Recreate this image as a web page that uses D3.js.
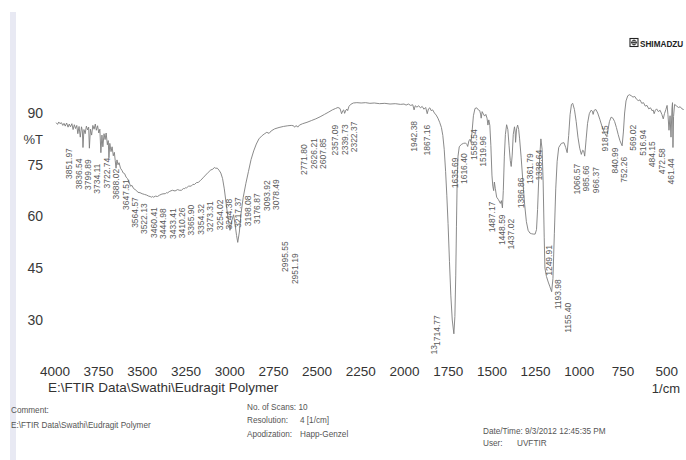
<!DOCTYPE html>
<html>
<head>
<meta charset="utf-8">
<script src="https://cdn.jsdelivr.net/npm/d3@7"></script>
<style>
  html, body { margin: 0; padding: 0; background: #fff; }
  svg { display: block; font-family: "Liberation Sans", Arial, sans-serif; }
</style>
</head>
<body>
<svg id="chart" width="686" height="460"></svg>
<script>
// FTIR spectrum of Eudragit polymer: wavenumber (1/cm) vs transmittance (%T)
const wavenumbers = [
  3990,3982,3975,3968,3960,3952,3945,3938,3930,3922,3915,3908,3900,3893,3886,3879,3872,3866,3859,3851.97,
  3845,3840,3836.54,3831,3824,3817,3810,3804,3799.89,3794,3787,3780,3773,3766,3760,3753,3746,3740,3734.11,3728,
  3722.74,3716,3710,3704,3697,3692,3688.02,3683,3676,3670,3663,3657,3652,3647.51,3642,3636,3630,3622,3614,3606,
  3598,3590,3582,3573,3564.57,3556,3547,3538,3530,3522.13,3510,3498,3485,3472,3460.41,3452,3444.98,3438,3433.41,3422,
  3410.26,3398,3385,3373,3365.90,3360,3354.32,3340,3325,3310,3295,3285,3273.31,3262,3254.02,3248,3244.38,3232,3224,3217.37,
  3208,3198.08,3188,3176.87,3165,3150,3135,3120,3105,3093.92,3085,3078.49,3068,3058,3048,3038,3028,3018,3008,2995.55,
  2985,2975,2966,2958,2951.19,2942,2932,2920,2905,2890,2875,2860,2845,2830,2815,2800,2785,2771.80,2760,2740,
  2715,2690,2665,2645,2632,2626.21,2618,2612,2607.85,2598,2580,2555,2530,2505,2480,2455,2430,2410,2392,2378,
  2366,2357.09,2350,2345,2339.73,2332,2326,2322.37,2315,2305,2290,2270,2245,2220,2195,2170,2140,2110,2080,2050,
  2020,2000,1988,1975,1962,1950,1942.38,1936,1926,1916,1906,1896,1886,1876,1867.16,1860,1852,1845,1836,1826,
  1816,1806,1796,1786,1778,1770,1762,1755,1748,1740,1732,1724,1714.77,1709,1704,1700,1696,1691,1684,1672,
  1660,1648,1641,1635.69,1629,1622,1616.40,1610,1603,1594,1584,1575,1567,1562,1558.54,1553,1546,1539,1532,1525,
  1519.96,1515,1509,1503,1497,1492,1487.17,1483,1478,1470,1460,1448.59,1443,1437.02,1432,1426,1420,1413,1406,1399,
  1392,1386.86,1381,1375,1368,1364,1361.79,1356,1350,1344,1338.64,1330,1320,1310,1300,1290,1280,1270,1260,1249.91,
  1242,1236,1230,1224,1217,1210,1204,1198,1193.98,1185,1175,1165,1155.40,1148,1140,1132,1124,1115,1100,1085,
  1075,1066.57,1058,1050,1042,1035,1025,1015,1005,995,985.66,978,972,966.37,958,950,940,930,922,918.15,
  912,902,892,880,868,855,846,840.99,834,825,815,805,795,785,775,765,752.26,745,738,730,
  720,710,700,690,680,670,660,650,640,630,620,610,600,590,580,575,569.02,562,555,545,
  535,525,516.94,510,502,495,490,484.15,478,472.58,467,464,461.44,458,452,440,430,420,410,400
];
const transmittance = [
  87.2,86.7,87.4,86.9,87.2,86.4,87.0,86.2,87.1,85.9,86.8,86.0,86.9,85.2,86.6,85.5,86.4,84.0,86.1,83.0,
  86.0,84.8,80.0,85.2,84.0,86.2,85.1,85.9,79.8,85.3,83.6,86.4,85.3,86.8,85.0,86.3,84.2,85.3,78.5,83.6,
  80.2,84.0,82.3,84.2,80.8,82.0,77.0,81.2,78.8,80.2,77.6,78.6,76.2,74.0,76.4,75.0,75.6,74.0,73.4,72.6,
  72.4,71.4,71.0,70.0,68.8,69.0,68.1,67.8,67.5,67.0,66.9,66.6,66.4,66.2,65.9,65.8,65.6,65.8,65.6,65.9,
  65.8,66.2,66.5,66.6,66.6,66.9,66.8,67.3,67.6,67.4,67.8,67.6,67.6,68.1,68.1,68.4,68.3,68.8,68.8,68.8,
  69.3,69.3,69.8,69.9,70.4,71.2,72.0,72.8,73.5,73.7,74.2,74.0,74.0,73.4,72.6,71.0,68.0,64.0,60.0,56.0,
  58.8,60.5,57.5,54.5,52.5,55.5,61.0,65.5,69.5,73.0,76.5,79.0,81.0,82.5,83.3,83.9,84.4,84.1,84.8,85.4,
  85.8,86.1,86.3,86.4,86.3,85.9,86.3,86.2,85.9,86.5,86.9,87.3,87.8,88.3,88.9,89.6,90.3,90.9,91.3,91.6,
  91.3,89.8,90.7,90.9,89.9,90.9,91.1,90.7,91.9,92.5,92.9,93.0,92.9,93.0,92.8,92.9,92.7,92.8,92.6,92.7,
  92.5,92.6,92.3,92.6,92.2,92.4,90.9,92.1,91.7,92.1,91.5,91.9,91.1,91.6,89.8,91.2,91.5,90.7,90.9,90.0,
  89.4,88.5,87.3,85.8,83.5,79.5,73.0,66.0,58.0,47.0,37.0,30.0,26.0,31.0,43.0,57.0,70.0,77.5,80.2,80.9,
  81.2,81.3,80.9,80.3,81.9,82.4,81.5,85.0,89.2,91.3,91.5,90.9,90.7,89.7,88.5,90.4,89.7,89.1,89.6,88.5,
  86.5,88.0,86.4,80.5,72.0,68.8,67.5,70.0,68.2,65.6,64.9,63.8,64.6,62.5,67.5,77.5,83.8,86.6,85.2,80.5,
  76.2,74.5,77.8,83.8,86.0,84.5,81.5,85.4,86.5,85.2,82.5,77.2,70.2,63.5,58.5,56.0,55.2,55.0,54.9,54.9,
  56.2,62.0,70.0,77.0,82.5,79.5,70.0,54.0,45.0,42.6,41.0,39.6,38.2,42.0,55.0,68.0,76.0,80.0,81.2,81.4,
  80.0,78.5,83.5,89.5,92.5,92.8,91.0,87.5,83.0,79.8,78.0,79.2,79.0,77.5,82.5,87.0,89.8,90.8,90.5,89.6,
  90.8,91.0,90.0,88.2,86.2,84.5,83.6,83.2,84.8,87.5,88.8,88.5,87.5,85.8,83.8,82.0,80.5,84.5,90.0,93.5,
  95.0,95.3,95.0,94.6,94.8,94.0,93.6,93.8,92.8,93.0,92.0,92.2,91.2,91.5,90.6,90.9,89.8,90.8,91.2,90.4,
  90.8,89.6,88.3,89.8,91.0,92.2,89.5,85.0,89.2,83.0,91.5,93.0,80.0,89.0,92.5,92.0,91.6,91.8,91.2,91.0
];

// Picked peaks (wavenumber, 1/cm)
const peakWavenumbers = [
  3851.97,3836.54,3799.89,3734.11,3722.74,3688.02,3647.51,
  3564.57,3522.13,3460.41,3444.98,3433.41,3410.26,3365.90,3354.32,3273.31,3254.02,3244.38,
  3217.37,3198.08,3176.87,3093.92,3078.49,2995.55,2951.19,2771.80,2626.21,2607.85,
  2357.09,2339.73,2322.37,1942.38,1867.16,1714.77,
  1635.69,1616.40,1558.54,1519.96,1487.17,1448.59,1437.02,1386.86,1361.79,1338.64,
  1249.91,1193.98,1155.40,1066.57,985.66,966.37,918.15,840.99,752.26,
  569.02,516.94,484.15,472.58,461.44
];

const xTicks = [4000,3750,3500,3250,3000,2750,2500,2250,2000,1750,1500,1250,1000,750,500];
const yTicks = [90,75,60,45,30];

const svg = d3.select("#chart");
const x = d3.scaleLinear().domain([4000, 400]).range([54.4, 683.7]);
const y = d3.scaleLinear().domain([20, 100]).range([354.5, 78.5]);

// scanned-page edge
svg.append("rect").attr("x", 10).attr("y", 12).attr("width", 6).attr("height", 448)
  .attr("fill", "#e8e9f3");

// maker logo
const logo = svg.append("g").attr("transform", "translate(630,38.5)");
logo.append("rect").attr("width", 8).attr("height", 8).attr("fill", "none")
  .attr("stroke", "#222").attr("stroke-width", 1.1);
logo.append("circle").attr("cx", 4).attr("cy", 4).attr("r", 2.3)
  .attr("fill", "none").attr("stroke", "#222").attr("stroke-width", 0.9);
logo.append("path").attr("d", "M4,1.1V6.9M1.1,4H6.9").attr("stroke", "#222").attr("stroke-width", 0.8);
svg.append("text").attr("x", 640).attr("y", 46.5).attr("font-size", 8.2).attr("font-weight", "bold")
  .attr("fill", "#222").text("SHIMADZU");

// axes (labels only)
const yAxis = svg.append("g").attr("transform", "translate(43,0)")
  .call(d3.axisLeft(y).tickValues(yTicks).tickSize(0).tickPadding(0));
yAxis.select(".domain").remove();
yAxis.selectAll("text").attr("font-size", 14).attr("fill", "#3a3a3a")
  .attr("font-family", "Liberation Sans, Arial, sans-serif");
svg.append("text").attr("x", 43).attr("y", 144).attr("text-anchor", "end")
  .attr("font-size", 13).attr("fill", "#3a3a3a").text("%T");

const xAxis = svg.append("g").attr("transform", "translate(0,366)")
  .call(d3.axisBottom(x).tickValues(xTicks).tickFormat(d3.format("d")).tickSize(0).tickPadding(0));
xAxis.select(".domain").remove();
xAxis.selectAll("text").attr("font-size", 13.5).attr("fill", "#333")
  .attr("font-family", "Liberation Sans, Arial, sans-serif");
svg.append("text").attr("x", 680).attr("y", 393).attr("text-anchor", "end")
  .attr("font-size", 13).attr("fill", "#333").text("1/cm");
svg.append("text").attr("x", 48).attr("y", 392).attr("font-size", 13.5).attr("fill", "#333")
  .text("E:\\FTIR Data\\Swathi\\Eudragit Polymer");

// spectrum trace
const spectrum = wavenumbers.map((w, i) => ({ w, t: transmittance[i] }));
svg.append("path").datum(spectrum)
  .attr("fill", "none").attr("stroke", "#7d7d7d").attr("stroke-width", 0.9)
  .attr("stroke-linejoin", "round")
  .attr("d", d3.line().x(d => x(d.w)).y(d => y(d.t)));

// peak labels: vertical, spread sideways where crowded
const tAt = w => spectrum[d3.minIndex(spectrum, d => Math.abs(d.w - w))].t;
const spacing = 9.4, mergeGap = 12, rightBound = 671, labelBottom = 350;
const items = peakWavenumbers.map(w => ({ w, nx: x(w), t: tAt(w) })).sort((a, b) => a.nx - b.nx);
const clusters = [];
items.forEach(it => {
  const last = clusters[clusters.length - 1];
  if (last && it.nx - last[last.length - 1].nx < mergeGap) last.push(it);
  else clusters.push([it]);
});
clusters.forEach(c => {
  const start = d3.mean(c, d => d.nx) - (c.length - 1) * spacing / 2;
  c.forEach((d, i) => d.lx = start + i * spacing);
});
let prevX = -Infinity;
clusters.forEach(c => {
  const shift = Math.max(0, prevX + spacing - c[0].lx);
  c.forEach(d => d.lx += shift);
  prevX = c[c.length - 1].lx;
});
let bound = rightBound;
for (let i = clusters.length - 1; i >= 0; i--) {
  const c = clusters[i];
  const over = c[c.length - 1].lx - bound;
  if (over > 0) c.forEach(d => d.lx -= over);
  bound = c[0].lx - spacing;
}

const labels = svg.append("g").attr("font-size", 8.5).attr("fill", "#5a5a5a");
items.forEach(d => {
  const txt = labels.append("text").attr("text-anchor", "end").attr("dy", "0.35em").text(d.w.toFixed(2));
  const len = txt.node().getComputedTextLength();
  let top = y(d.t) + 11, lx = d.lx;
  if (top + len > labelBottom) { top = labelBottom - len - 4; lx -= 8; }
  txt.attr("transform", `translate(${lx},${top}) rotate(-90)`);
});
// clipped label end near the carbonyl band
labels.append("text").attr("text-anchor", "end").attr("dy", "0.35em")
  .attr("transform", "translate(434,345) rotate(-90)").text("13");

// acquisition details
const info = svg.append("g").attr("font-size", 8.2).attr("fill", "#555");
info.append("text").attr("x", 11).attr("y", 413).text("Comment:");
info.append("text").attr("x", 11).attr("y", 428).text("E:\\FTIR Data\\Swathi\\Eudragit Polymer");
info.append("text").attr("x", 247).attr("y", 410).text("No. of Scans: 10");
info.append("text").attr("x", 247).attr("y", 423).text("Resolution:");
info.append("text").attr("x", 300).attr("y", 423).text("4 [1/cm]");
info.append("text").attr("x", 247).attr("y", 437).text("Apodization:");
info.append("text").attr("x", 300).attr("y", 437).text("Happ-Genzel");
info.append("text").attr("x", 483).attr("y", 434).text("Date/Time: 9/3/2012 12:45:35 PM");
info.append("text").attr("x", 483).attr("y", 446).text("User:");
info.append("text").attr("x", 517).attr("y", 446).text("UVFTIR");
</script>
</body>
</html>
